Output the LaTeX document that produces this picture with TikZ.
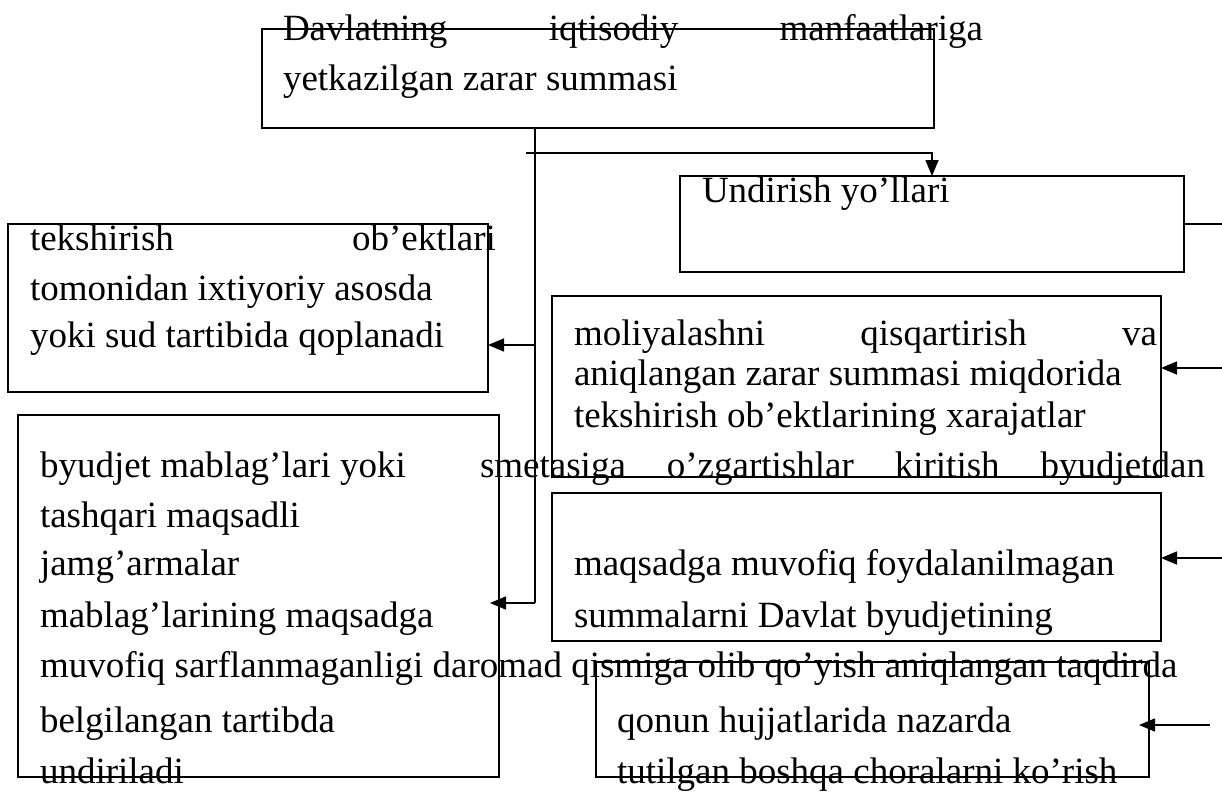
\documentclass[tikz,border=0pt]{standalone}
\usepackage{fontspec}
\setmainfont{Liberation Serif}
\usetikzlibrary{arrows.meta}
\tikzset{
  box/.style={draw, line width=1.6pt, anchor=north west, inner sep=0pt, outer sep=0pt},
  txt/.style={anchor=base west, inner sep=0pt, outer sep=0pt, font=\fontsize{37}{44}\selectfont},
  conn/.style={line width=1.6pt},
  arr/.style={line width=1.6pt, -{Triangle[length=16pt,width=13pt]}}
}
\begin{document}
\begin{tikzpicture}[x=1pt,y=-1pt]
\useasboundingbox (0,0) rectangle (1222,792);
% boxes
\node[box, minimum width=672pt, minimum height=99pt]  (top)   at (262,29)  {};
\node[box, minimum width=504pt, minimum height=96pt]  (undir) at (680,176) {};
\node[box, minimum width=480pt, minimum height=168pt] (tek)   at (8,224)   {};
\node[box, minimum width=609pt, minimum height=181pt] (moli)  at (552,296) {};
\node[box, minimum width=481pt, minimum height=362pt] (byud)  at (18,415)  {};
\node[box, minimum width=609pt, minimum height=148pt] (maqs)  at (552,493) {};
\node[box, minimum width=553pt, minimum height=115pt] (qonun) at (596,662) {};
% texts
\node[txt] (t1) at (283,41) {\hbox to 700pt{Davlatning\hfill iqtisodiy\hfill manfaatlariga}};
\node[txt] (t2) at (283,90) {yetkazilgan zarar summasi};
\node[txt] (u1) at (702,202) {Undirish yo’llari};
\node[txt] (k1) at (30,250) {\hbox to 466pt{tekshirish\hfill ob’ektlari}};
\node[txt] (k2) at (30,300) {tomonidan ixtiyoriy asosda};
\node[txt] (k3) at (30,347) {yoki sud tartibida qoplanadi};
\node[txt] (m1) at (574,345) {\hbox to 583pt{moliyalashni\hfill qisqartirish\hfill va}};
\node[txt] (m2) at (574,385) {aniqlangan zarar summasi miqdorida};
\node[txt] (m3) at (574,427) {tekshirish ob’ektlarining xarajatlar};
\node[txt] (b1) at (40,477) {byudjet mablag’lari yoki};
\node[txt] (b1r) at (480,477) {\hbox to 725pt{smetasiga\hfill o’zgartishlar\hfill kiritish\hfill byudjetdan}};
\node[txt] (b2) at (40,527) {tashqari maqsadli};
\node[txt] (b3) at (40,575) {jamg’armalar};
\node[txt] (b4) at (40,627) {mablag’larining maqsadga};
\node[txt] (b5) at (40,677) {muvofiq sarflanmaganligi daromad qismiga olib qo’yish aniqlangan taqdirda};
\node[txt] (b6) at (40,732) {belgilangan tartibda};
\node[txt] (b7) at (40,783) {undiriladi};
\node[txt] (s1) at (574,575) {maqsadga muvofiq foydalanilmagan};
\node[txt] (s2) at (574,627) {summalarni Davlat byudjetining};
\node[txt] (q1) at (617,732) {qonun hujjatlarida nazarda};
\node[txt] (q2) at (617,783) {tutilgan boshqa choralarni ko’rish};
% connector points
\coordinate (j1) at (535,603);
\coordinate (j2) at (535,345);
\coordinate (h0) at (526,153);
\coordinate (r1) at (1222,224);
\coordinate (r2) at (1222,368);
\coordinate (r3) at (1222,558);
\coordinate (r4) at (1210,725);
% connectors
\draw[conn] (top.south -| j1) -- (j1);
\draw[arr] (j1) -- ([xshift=-9pt]byud.east |- j1);
\draw[arr] (j2) -- (j2 -| tek.east);
\draw[arr] (h0) -| (undir.north);
\draw[conn] (undir.east) -- (r1);
\draw[arr] (r2) -- (r2 -| moli.east);
\draw[arr] (r3) -- (r3 -| maqs.east);
\draw[arr] (r4) -- ([xshift=-10pt]qonun.east |- r4);
\end{tikzpicture}
\end{document}
